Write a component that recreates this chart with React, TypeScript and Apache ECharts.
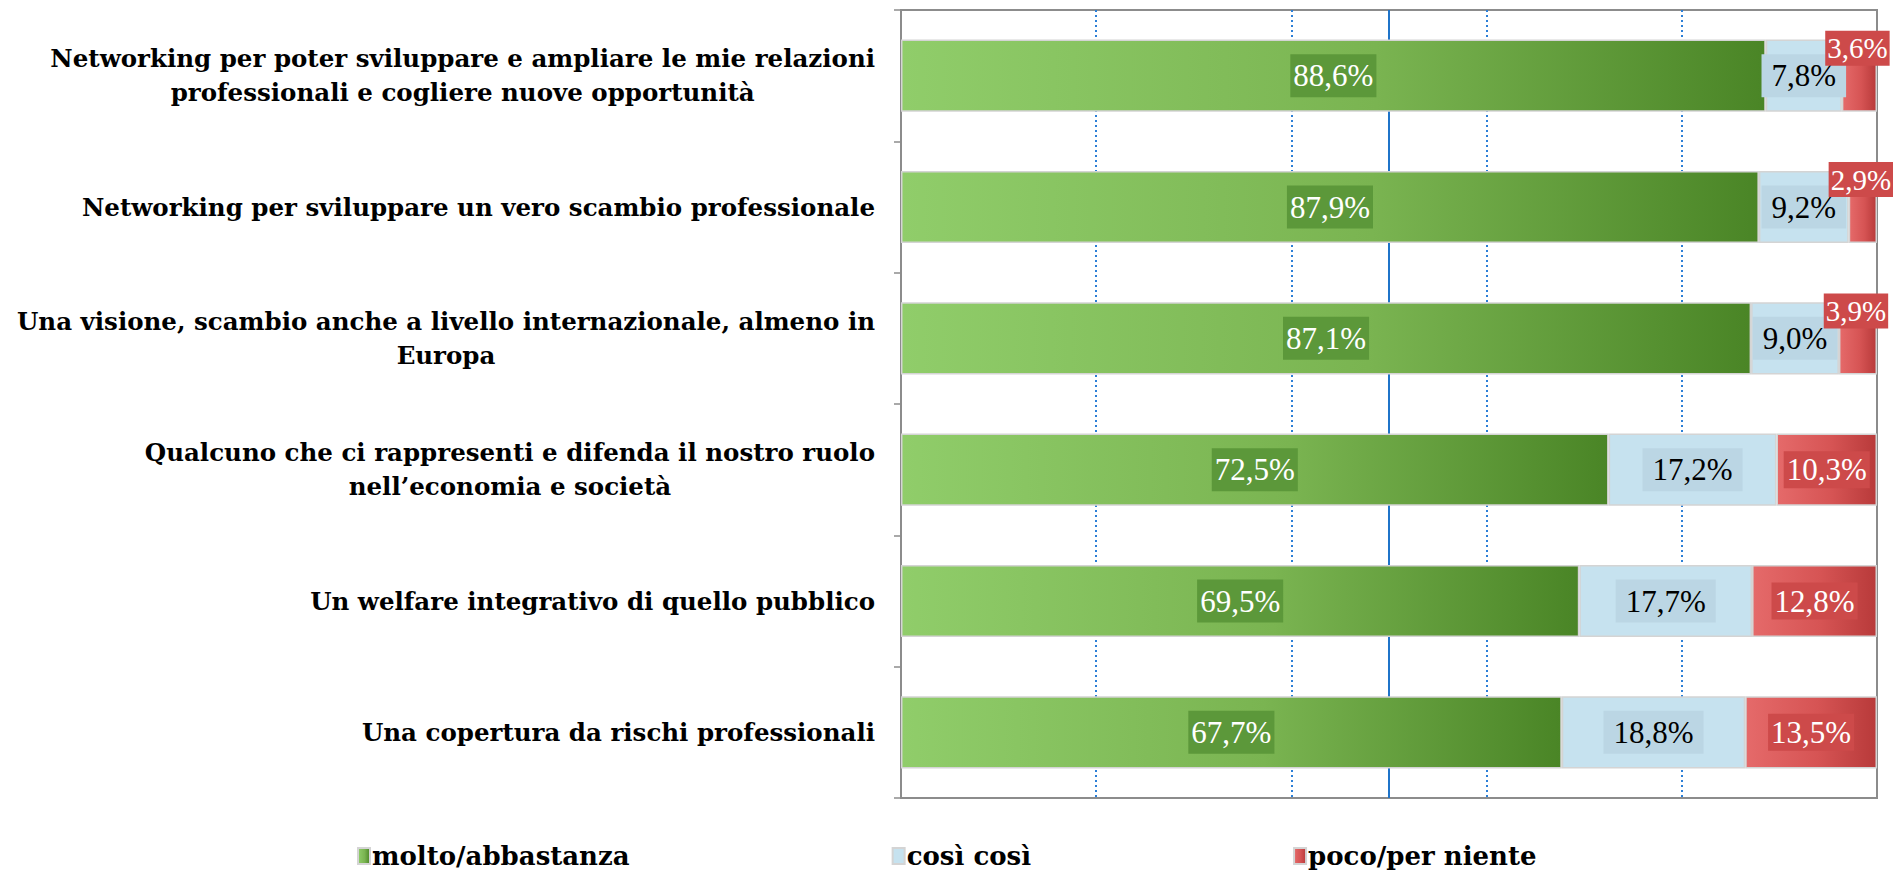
import React, { useEffect, useRef } from "react";
import * as echarts from "echarts";

const categories = [
  "Networking per poter sviluppare e ampliare le mie relazioni\nprofessionali e cogliere nuove opportunità",
  "Networking per sviluppare un vero scambio professionale",
  "Una visione, scambio anche a livello internazionale, almeno in\nEuropa",
  "Qualcuno che ci rappresenti e difenda il nostro ruolo\nnell’economia e società",
  "Un welfare integrativo di quello pubblico",
  "Una copertura da rischi professionali",
];
const seriesNames = ["molto/abbastanza", "così così", "poco/per niente"];
const molto = [88.6, 87.9, 87.1, 72.5, 69.5, 67.7];
const cosi = [7.8, 9.2, 9.0, 17.2, 17.7, 18.8];
const poco = [3.6, 2.9, 3.9, 10.3, 12.8, 13.5];
const referenceLine = 50;

const fmt = (v: number) => v.toFixed(1).replace(".", ",") + "%";

const grad = (a: string, b: string, c: string) =>
  new echarts.graphic.LinearGradient(0, 0, 1, 0, [
    { offset: 0, color: a },
    { offset: 0.55, color: b },
    { offset: 1, color: c },
  ]);

export default function App() {
  const ref = useRef<HTMLDivElement>(null);
  useEffect(() => {
    if (!ref.current) return;
    const chart = echarts.init(ref.current, undefined, { renderer: "svg" });
    const labelFont = "Liberation Serif";
    const catFont = "DejaVu Serif";
    const barBorder = { borderColor: "#d4d4d4", borderWidth: 1.5 };

    chart.setOption({
      animation: false,
      backgroundColor: "#ffffff",
      grid: {
        left: 901,
        right: 16,
        top: 10,
        bottom: 79,
        containLabel: false,
        show: true,
        borderColor: "#8c8c8c",
        borderWidth: 2,
        backgroundColor: "transparent",
      },
      legend: {
        left: 352,
        top: 838,
        itemGap: 262,
        itemWidth: 12,
        itemHeight: 16,
        icon: "rect",
        textStyle: {
          fontFamily: catFont,
          fontWeight: "bold",
          fontSize: 26,
          color: "#000",
          padding: [0, 0, 0, -3],
        },
        data: seriesNames,
      },
      xAxis: {
        type: "value",
        min: 0,
        max: 100,
        interval: 20,
        axisLabel: { show: false },
        axisTick: { show: false },
        axisLine: { show: false },
        splitLine: {
          show: true,
          showMinLine: false,
          showMaxLine: false,
          lineStyle: { color: "#2c7fd6", width: 2, type: [2, 3] },
        },
      },
      yAxis: {
        type: "category",
        inverse: true,
        data: categories,
        axisLine: { show: true, lineStyle: { color: "#8c8c8c", width: 2 } },
        axisTick: { show: true, length: 7, lineStyle: { color: "#8c8c8c", width: 1.5 } },
        axisLabel: {
          interval: 0,
          margin: 26,
          align: "right",
          formatter: (v: string) => `{c|${v}}`,
          rich: {
            c: {
              align: "center",
              fontFamily: catFont,
              fontWeight: "bold",
              fontSize: 24.5,
              lineHeight: 34,
              color: "#000",
            },
          },
        },
      },
      series: [
        {
          name: seriesNames[0],
          type: "bar",
          stack: "tot",
          barWidth: "55%",
          itemStyle: { color: grad("#90cd6a", "#7ab451", "#4a8526"), ...barBorder },
          label: {
            show: true,
            position: "inside",
            formatter: (p: any) => fmt(p.value),
            color: "#ffffff",
            fontFamily: labelFont,
            fontSize: 31,
            backgroundColor: "#5c983a",
            padding: [6, 3],
          },
          markLine: {
            silent: true,
            symbol: "none",
            z: 1,
            label: { show: false },
            lineStyle: { color: "#1f74c9", width: 2, type: "solid" },
            data: [{ xAxis: referenceLine }],
          },
          data: molto,
        },
        {
          name: seriesNames[1],
          type: "bar",
          stack: "tot",
          itemStyle: { color: "#c6e2ef", ...barBorder },
          label: {
            show: true,
            position: "inside",
            formatter: (p: any) => fmt(p.value),
            color: "#000000",
            fontFamily: labelFont,
            fontSize: 31,
            backgroundColor: "#bbd6e4",
            padding: [6, 10],
          },
          data: cosi,
        },
        {
          name: seriesNames[2],
          type: "bar",
          stack: "tot",
          itemStyle: { color: grad("#e56a6a", "#d65454", "#b83a3a"), ...barBorder },
          label: {
            show: true,
            position: "inside",
            formatter: (p: any) => fmt(p.value),
            color: "#ffffff",
            fontFamily: labelFont,
            fontSize: 31,
            backgroundColor: "#cd4a4a",
            padding: [3, 3],
          },
          data: poco.map((v) =>
            v < 5
              ? {
                  value: v,
                  label: {
                    position: ["50%", "12%"],
                    offset: [-2, 0],
                    align: "center",
                    verticalAlign: "middle",
                    fontSize: 29,
                    padding: [3, 2],
                  },
                }
              : v
          ),
        },
      ],
    });
    return () => chart.dispose();
  }, []);
  return (
    <div
      ref={ref}
      style={{ position: "fixed", left: 0, top: 0, width: 1893, height: 877 }}
    />
  );
}
